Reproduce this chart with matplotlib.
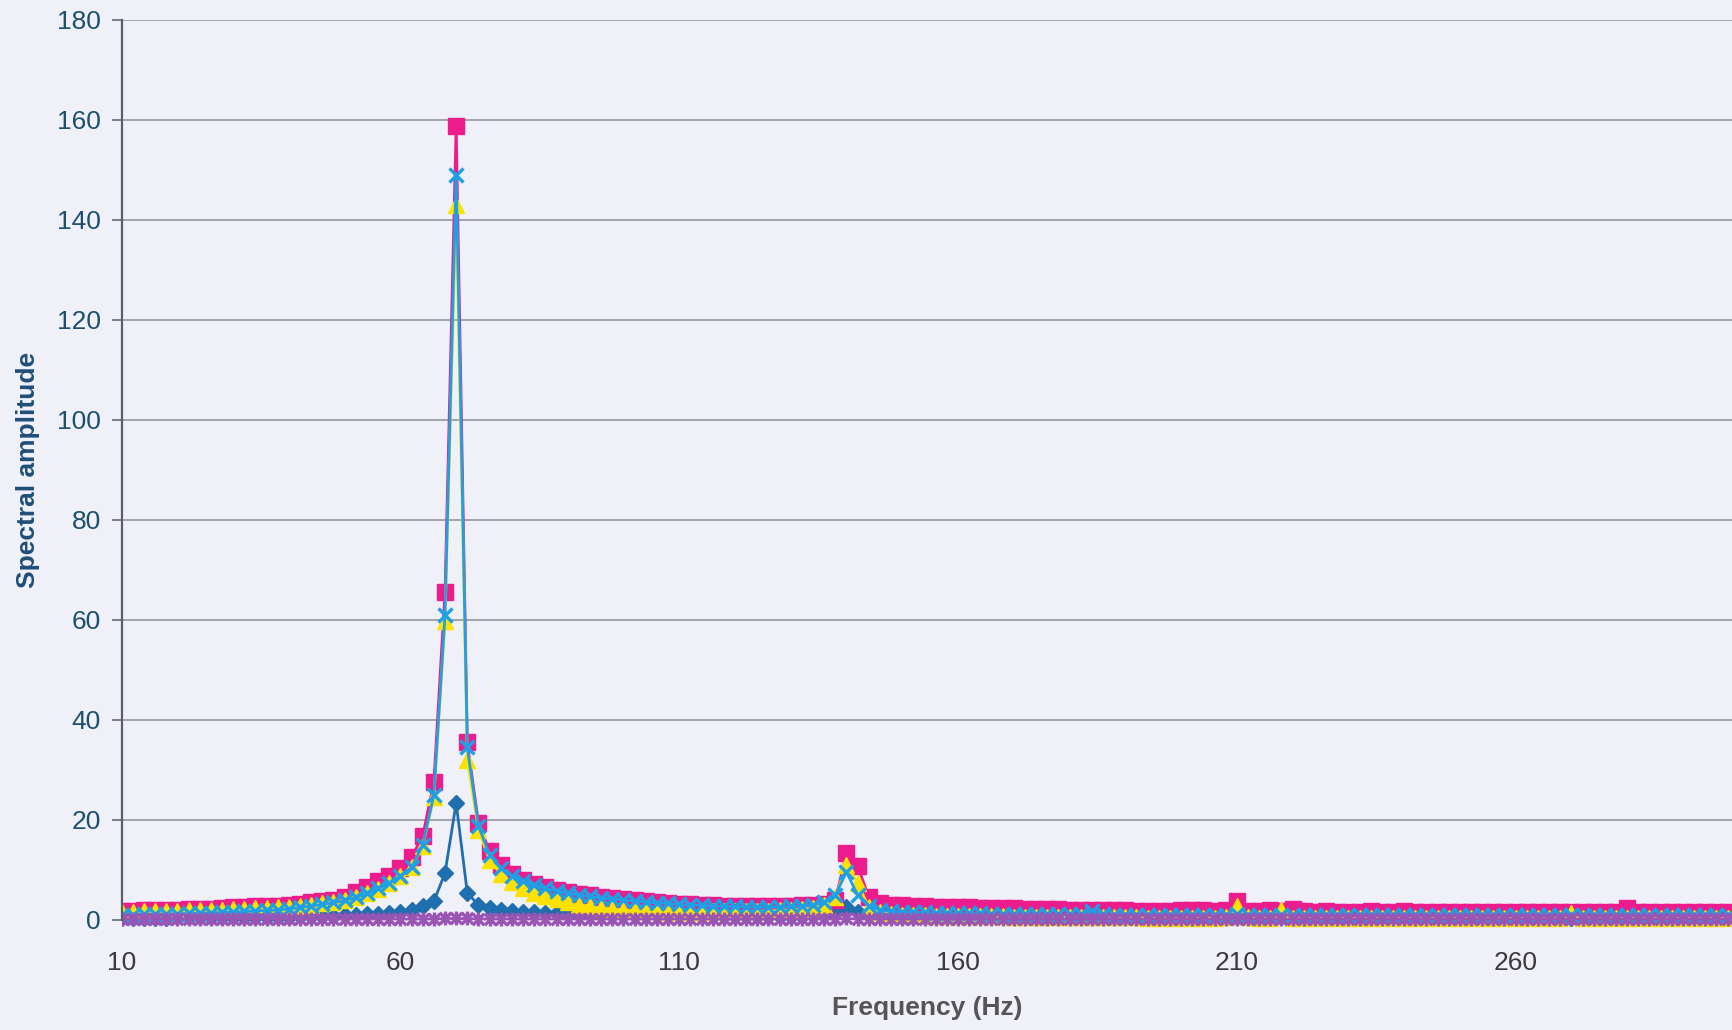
import matplotlib.pyplot as plt
import numpy as np
from matplotlib.path import Path
from matplotlib.transforms import Bbox, TransformedBbox

# frequency grid (category axis, 2 Hz step)
freq = np.arange(10, 300, 2)

series_blue = [
    0.4, 0.4, 0.4, 0.4, 0.4, 0.5, 0.5, 0.5, 0.5, 0.5,
    0.5, 0.5, 0.6, 0.6, 0.6, 0.6, 0.7, 0.7, 0.8, 0.8,
    0.9, 1.0, 1.1, 1.2, 1.4, 1.6, 1.9, 2.7, 3.7, 9.4,
    23.4, 5.4, 3.0, 2.4, 2.0, 1.8, 1.6, 1.5, 1.4, 1.3,
    1.2, 1.2, 1.1, 1.1, 1.0, 1.0, 1.0, 0.9, 0.9, 0.9,
    0.9, 0.9, 0.8, 0.8, 0.8, 0.8, 0.8, 0.8, 0.8, 0.8,
    0.8, 0.8, 0.9, 1.0, 1.4, 2.6, 1.5, 0.9, 0.7, 0.7,
    0.6, 0.6, 0.6, 0.6, 0.6, 0.6, 0.6, 0.5, 0.5, 0.5,
    0.5, 0.5, 0.5, 0.5, 0.5, 0.5, 0.5, 0.5, 0.5, 0.5,
    0.5, 0.5, 0.5, 0.5, 0.5, 0.5, 0.5, 0.5, 0.5, 0.5,
    0.6, 0.5, 0.5, 0.5, 0.5, 0.5, 0.5, 0.5, 0.5, 0.5,
    0.5, 0.5, 0.5, 0.5, 0.5, 0.4, 0.4, 0.4, 0.4, 0.4,
    0.4, 0.4, 0.4, 0.4, 0.4, 0.4, 0.4, 0.4, 0.4, 0.4,
    0.4, 0.4, 0.4, 0.4, 0.4, 0.4, 0.4, 0.4, 0.4, 0.4,
    0.4, 0.4, 0.4, 0.4, 0.4,
]

series_magenta = [
    1.8, 1.8, 1.9, 1.9, 2.0, 2.0, 2.1, 2.2, 2.2, 2.4,
    2.5, 2.6, 2.7, 2.7, 2.8, 3.0, 3.2, 3.5, 3.7, 4.0,
    4.6, 5.5, 6.5, 7.7, 8.8, 10.4, 12.6, 16.8, 27.6, 65.6,
    158.8, 35.5, 19.4, 13.7, 11.0, 9.2, 8.0, 7.2, 6.5, 6.0,
    5.5, 5.2, 4.9, 4.6, 4.3, 4.1, 3.9, 3.7, 3.5, 3.3,
    3.2, 3.1, 3.0, 2.9, 2.8, 2.8, 2.7, 2.7, 2.7, 2.8,
    2.8, 2.9, 3.0, 3.2, 4.0, 13.4, 10.8, 4.6, 3.4, 3.0,
    2.9, 2.8, 2.7, 2.6, 2.6, 2.5, 2.5, 2.4, 2.4, 2.3,
    2.3, 2.2, 2.2, 2.1, 2.1, 2.0, 2.0, 2.0, 1.9, 1.9,
    1.9, 1.8, 1.8, 1.8, 1.8, 1.9, 2.0, 2.0, 1.8, 1.9,
    3.8, 1.8, 1.7, 2.0, 1.7, 2.1, 1.7, 1.6, 1.7, 1.6,
    1.6, 1.6, 1.7, 1.6, 1.6, 1.7, 1.6, 1.5, 1.6, 1.5,
    1.6, 1.5, 1.5, 1.6, 1.5, 1.5, 1.6, 1.5, 1.5, 1.5,
    1.5, 1.5, 1.5, 1.5, 1.5, 2.4, 1.5, 1.5, 1.5, 1.5,
    1.5, 1.5, 1.5, 1.5, 1.5,
]

series_yellow = [
    1.6, 1.6, 1.7, 1.7, 1.8, 1.8, 1.9, 1.9, 2.0, 2.0,
    2.1, 2.2, 2.3, 2.4, 2.5, 2.6, 2.8, 3.0, 3.3, 3.6,
    4.0, 4.6, 5.3, 6.2, 7.4, 8.8, 10.5, 14.8, 24.5, 59.8,
    143.0, 32.0, 18.0, 12.0, 9.2, 7.5, 6.3, 5.4, 4.7, 4.2,
    3.5, 3.0, 2.7, 2.4, 2.2, 2.0, 1.9, 1.8, 1.7, 1.6,
    1.6, 1.6, 1.6, 1.7, 1.7, 1.7, 1.7, 1.8, 1.8, 1.9,
    2.0, 2.1, 2.4, 3.0, 4.5, 11.0, 7.4, 2.5, 1.5, 1.2,
    1.0, 0.9, 0.9, 0.8, 0.8, 0.8, 0.7, 0.7, 0.7, 0.7,
    0.6, 0.6, 0.6, 0.6, 0.6, 0.5, 0.5, 0.5, 0.5, 0.5,
    0.5, 0.5, 0.4, 0.4, 0.4, 0.4, 0.4, 0.4, 0.4, 0.5,
    2.8, 0.6, 0.4, 0.4, 2.0, 0.4, 0.3, 0.3, 0.3, 0.3,
    0.3, 0.3, 0.3, 0.3, 0.3, 0.3, 0.3, 0.3, 0.3, 0.3,
    0.3, 0.3, 0.3, 0.3, 0.3, 0.3, 0.3, 0.3, 0.3, 0.3,
    1.4, 0.3, 0.3, 0.3, 0.3, 0.3, 0.3, 0.3, 0.3, 0.3,
    0.3, 0.3, 0.3, 0.3, 0.3,
]

series_cyan = [
    1.0, 1.0, 1.1, 1.1, 1.2, 1.2, 1.3, 1.3, 1.4, 1.5,
    1.6, 1.7, 1.8, 1.9, 2.0, 2.2, 2.5, 2.8, 3.1, 3.5,
    3.9, 4.5, 5.3, 6.3, 7.4, 8.7, 10.5, 15.0, 25.0, 61.0,
    149.0, 34.5, 18.8, 13.0, 10.4, 8.8, 7.7, 6.9, 6.3, 5.8,
    5.4, 5.0, 4.7, 4.4, 4.2, 4.0, 3.8, 3.6, 3.4, 3.3,
    3.1, 3.0, 2.9, 2.8, 2.7, 2.7, 2.6, 2.6, 2.6, 2.6,
    2.7, 2.8, 3.0, 3.5, 5.0, 9.6, 5.0, 2.8, 2.0, 1.7,
    1.6, 1.5, 1.5, 1.4, 1.4, 1.3, 1.3, 1.3, 1.2, 1.2,
    1.2, 1.2, 1.1, 1.1, 1.1, 1.1, 1.1, 1.8, 1.1, 1.0,
    1.0, 1.0, 1.0, 1.0, 1.0, 1.0, 1.0, 1.0, 1.0, 1.0,
    1.1, 1.0, 1.0, 1.0, 1.0, 1.0, 1.0, 1.0, 1.0, 1.0,
    1.0, 1.0, 1.0, 1.0, 1.0, 1.0, 1.0, 1.0, 1.0, 1.0,
    1.0, 1.0, 1.0, 1.0, 1.0, 1.0, 1.0, 1.0, 1.0, 1.0,
    1.0, 1.0, 1.0, 1.0, 1.0, 1.0, 1.0, 1.0, 1.0, 1.0,
    1.0, 1.0, 1.0, 1.0, 1.0,
]

series_purple = [
    0.2, 0.2, 0.2, 0.2, 0.2, 0.2, 0.2, 0.2, 0.2, 0.2,
    0.2, 0.2, 0.2, 0.2, 0.2, 0.2, 0.2, 0.2, 0.2, 0.2,
    0.2, 0.2, 0.2, 0.2, 0.2, 0.2, 0.2, 0.2, 0.2, 0.3,
    0.3, 0.3, 0.2, 0.2, 0.2, 0.2, 0.2, 0.2, 0.2, 0.2,
    0.2, 0.2, 0.2, 0.2, 0.2, 0.2, 0.2, 0.2, 0.2, 0.2,
    0.2, 0.2, 0.2, 0.2, 0.2, 0.2, 0.2, 0.2, 0.2, 0.2,
    0.2, 0.2, 0.2, 0.2, 0.2, 0.3, 0.2, 0.2, 0.2, 0.2,
    0.2, 0.2, 0.2, 0.2, 0.2, 0.2, 0.2, 0.2, 0.2, 0.2,
    0.2, 0.2, 0.2, 0.2, 0.2, 0.2, 0.2, 0.2, 0.2, 0.2,
    0.2, 0.2, 0.2, 0.2, 0.2, 0.2, 0.2, 0.2, 0.2, 0.2,
    0.2, 0.2, 0.2, 0.2, 0.2, 0.2, 0.2, 0.2, 0.2, 0.2,
    0.2, 0.2, 0.2, 0.2, 0.2, 0.2, 0.2, 0.2, 0.2, 0.2,
    0.2, 0.2, 0.2, 0.2, 0.2, 0.2, 0.2, 0.2, 0.2, 0.2,
    0.2, 0.2, 0.2, 0.2, 0.2, 0.2, 0.2, 0.2, 0.2, 0.2,
    0.2, 0.2, 0.2, 0.2, 0.2,
]

x_ticks = [10, 60, 110, 160, 210, 260]
y_ticks = [0, 20, 40, 60, 80, 100, 120, 140, 160, 180]

# excel "star" marker: x with a vertical bar
star = Path([(-1, -1), (1, 1), (-1, 1), (1, -1), (0, -1.2), (0, 1.2)],
            [Path.MOVETO, Path.LINETO, Path.MOVETO, Path.LINETO, Path.MOVETO, Path.LINETO])

bg = '#f0f0f9'
plt.rcParams['font.family'] = ['Liberation Sans', 'DejaVu Sans']

fig = plt.figure(figsize=(17.32, 10.30), dpi=100, facecolor=bg)
ax = fig.add_axes([0.0702, 0.1068, 0.9298, 0.8738])
ax.set_facecolor(bg)

styles = [
    (series_blue, '#1f6fae', 'D', 8.5, dict(mfc='#1f6fae', mec='#1f6fae')),
    (series_magenta, '#ec1c8c', 's', 11, dict(mfc='#ec1c8c', mec='#ec1c8c')),
    (series_yellow, '#fde200', '^', 11, dict(mfc='#fde200', mec='#fde200')),
    (series_cyan, '#1ea0e6', 'x', 10, dict(mec='#1ea0e6', mew=2.4)),
    (series_purple, '#9a55b4', star, 10, dict(mfc='none', mec='#9a55b4', mew=2.4)),
]

clip = TransformedBbox(Bbox([[0, -0.03], [1, 1.03]]), ax.transAxes)
for vals, col, mk, ms, kw in styles:
    line, = ax.plot(freq, vals, color=col, lw=2, marker=mk, ms=ms, **kw)
    line.set_clip_box(clip)

ax.set_xlim(10, 298.8)
ax.set_ylim(0, 180)
ax.set_xticks(x_ticks)
ax.set_yticks(y_ticks)
ax.yaxis.grid(True, color='#8e8e96', lw=1.1)
ax.set_axisbelow(True)

for s in ['top', 'right', 'bottom']:
    ax.spines[s].set_visible(False)
ax.spines['left'].set_color('#56606a')
ax.spines['left'].set_linewidth(1.6)

ax.tick_params(axis='y', length=7, width=1.1, color='#56606a', labelsize=19,
               labelcolor='#1d4f6e', pad=8)
ax.tick_params(axis='x', length=0, labelsize=19, labelcolor='#3a3a3a', pad=22)

ax.set_ylabel('Spectral amplitude', fontsize=19, fontweight='bold', color='#1f4e79')
ax.set_xlabel('Frequency (Hz)', fontsize=19, fontweight='bold', color='#555555')
ax.xaxis.label.set_va('center')
ax.xaxis.set_label_coords(0.5, -0.0977)
ax.yaxis.label.set_va('center')
ax.yaxis.set_label_coords(-0.0583, 0.5)

fig.savefig('out.png', dpi=100, facecolor=bg)
